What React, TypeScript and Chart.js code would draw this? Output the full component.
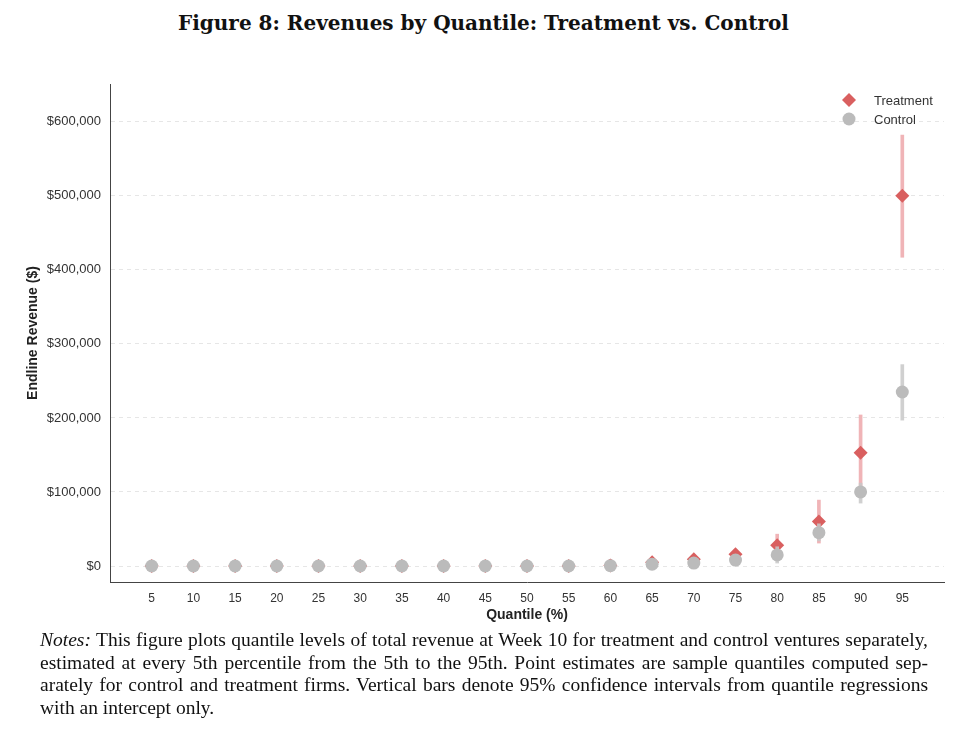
import { useEffect, useRef } from "react";
import { Chart, registerables } from "chart.js";

Chart.register(...registerables);

const quantiles = [5, 10, 15, 20, 25, 30, 35, 40, 45, 50, 55, 60, 65, 70, 75, 80, 85, 90, 95];

const treatmentEst = [0, 0, 0, 0, 0, 0, 0, 0, 0, 0, 0, 800, 5000, 9000, 16000, 28000, 60000, 153000, 500000];
const treatmentLow = [0, 0, 0, 0, 0, 0, 0, 0, 0, 0, 0, 0, 1500, 5000, 10000, 16000, 31000, 98000, 417000];
const treatmentHigh = [0, 0, 0, 0, 0, 0, 0, 0, 0, 0, 1000, 9000, 10000, 15000, 22000, 43000, 89000, 204000, 582000];

const controlEst = [0, 0, 0, 0, 0, 0, 0, 0, 0, 0, 0, 500, 2500, 4000, 8000, 15000, 45000, 100000, 235000];
const controlLow = [0, 0, 0, 0, 0, 0, 0, 0, 0, 0, 0, 0, 500, 1500, 4000, 4000, 34000, 85000, 197000];
const controlHigh = [0, 0, 0, 0, 0, 0, 0, 0, 0, 0, 0, 1500, 4500, 7000, 13000, 26000, 57000, 112000, 272000];

const yTicks = [0, 100000, 200000, 300000, 400000, 500000, 600000];

const RED = "#D95F5F";
const RED_CI = "rgba(232, 140, 145, 0.65)";
const GRAY = "#BBBBBB";
const GRAY_CI = "rgba(200, 200, 200, 0.85)";

const legendItems = [
  { label: "Treatment", color: RED, shape: "diamond" },
  { label: "Control", color: GRAY, shape: "circle" },
];

// legend sits inside the plot, top right
const insideLegend = {
  id: "insideLegend",
  afterDraw(chart: any) {
    const { ctx, chartArea } = chart;
    ctx.save();
    ctx.font = "13px 'Liberation Sans', Arial, sans-serif";
    ctx.textBaseline = "middle";
    legendItems.forEach((item, i) => {
      const cx = chartArea.right - 95;
      const cy = chartArea.top + 16 + i * 19;
      ctx.fillStyle = item.color;
      ctx.beginPath();
      if (item.shape === "diamond") {
        ctx.moveTo(cx, cy - 7);
        ctx.lineTo(cx + 7, cy);
        ctx.lineTo(cx, cy + 7);
        ctx.lineTo(cx - 7, cy);
        ctx.closePath();
      } else {
        ctx.arc(cx, cy, 6.5, 0, Math.PI * 2);
      }
      ctx.fill();
      ctx.fillStyle = "#333333";
      ctx.fillText(item.label, cx + 25, cy + 1);
    });
    ctx.restore();
  },
};

const RevenueQuantileChart = () => {
  const chartRef = useRef<HTMLCanvasElement>(null);

  useEffect(() => {
    const ctx = chartRef.current!.getContext("2d")!;

    const chart = new Chart(ctx, {
      type: "scatter",
      data: {
        datasets: [
          {
            type: "scatter",
            label: "Control",
            data: quantiles.map((q, i) => ({ x: q, y: controlEst[i] })),
            pointStyle: "circle",
            pointRadius: 6.5,
            backgroundColor: GRAY,
            borderWidth: 0,
            order: 0,
          },
          {
            type: "bar",
            label: "Control CI",
            data: quantiles.map((q, i) => ({ x: q, y: [controlLow[i], controlHigh[i]] })) as any,
            backgroundColor: GRAY_CI,
            barThickness: 3,
            grouped: false,
            order: 1,
          },
          {
            type: "scatter",
            label: "Treatment",
            data: quantiles.map((q, i) => ({ x: q, y: treatmentEst[i] })),
            pointStyle: "rectRot",
            pointRadius: 7,
            backgroundColor: RED,
            borderWidth: 0,
            order: 2,
          },
          {
            type: "bar",
            label: "Treatment CI",
            data: quantiles.map((q, i) => ({ x: q, y: [treatmentLow[i], treatmentHigh[i]] })) as any,
            backgroundColor: RED_CI,
            barThickness: 3,
            grouped: false,
            order: 3,
          },
        ],
      },
      options: {
        animation: false,
        responsive: true,
        maintainAspectRatio: false,
        layout: { padding: { left: 17, right: 0, top: 24, bottom: 6 } },
        plugins: {
          legend: { display: false },
          tooltip: { enabled: false },
        },
        scales: {
          x: {
            type: "linear",
            min: 0,
            max: 100,
            offset: false,
            afterBuildTicks: (scale: any) => {
              scale.ticks = quantiles.map((v) => ({ value: v }));
            },
            afterFit: (scale: any) => {
              scale.height = 42;
            },
            grid: { display: false, drawTicks: false },
            border: { display: true, color: "#444444", width: 1 },
            ticks: {
              padding: 9,
              color: "#333333",
              font: { family: "'Liberation Sans', Arial, sans-serif", size: 12 },
              callback: (v: any) => String(v),
            },
            title: {
              display: true,
              text: "Quantile (%)",
              color: "#222222",
              padding: 0,
              font: { family: "'Liberation Sans', Arial, sans-serif", size: 14, weight: "bold" },
            },
          },
          y: {
            type: "linear",
            min: -21600,
            max: 651000,
            afterBuildTicks: (scale: any) => {
              scale.ticks = yTicks.map((v) => ({ value: v }));
            },
            afterFit: (scale: any) => {
              scale.width = 85;
            },
            grid: { color: "#E6E6E6", lineWidth: 1, drawTicks: false },
            border: { display: true, color: "#444444", width: 1, dash: [4, 4] },
            ticks: {
              padding: 9,
              color: "#333333",
              font: { family: "'Liberation Sans', Arial, sans-serif", size: 13 },
              callback: (v: any) => "$" + Number(v).toLocaleString("en-US"),
            },
            title: {
              display: true,
              text: "Endline Revenue ($)",
              color: "#222222",
              padding: 0,
              font: { family: "'Liberation Sans', Arial, sans-serif", size: 14, weight: "bold" },
            },
          },
        },
      },
      plugins: [insideLegend],
    });

    return () => {
      chart.destroy();
    };
  }, []);

  return (
    <div style={{ position: "absolute", left: 0, top: 52, width: 943, height: 570 }}>
      <canvas ref={chartRef}></canvas>
    </div>
  );
};

const noteLine = { textAlign: "justify" as const, textAlignLast: "justify" as const, whiteSpace: "nowrap" as const };

export default function App() {
  return (
    <div style={{ position: "relative", width: 941, height: 726 }}>
      <div
        style={{
          position: "absolute",
          top: 2,
          left: 5,
          width: 941,
          textAlign: "center",
          fontFamily: "'DejaVu Serif', serif",
          fontWeight: "bold",
          fontSize: 20,
          lineHeight: "26px",
          color: "#111",
        }}
      >
        Figure 8: Revenues by Quantile: Treatment vs. Control
      </div>
      <RevenueQuantileChart />
      <div
        style={{
          position: "absolute",
          top: 621,
          left: 32,
          width: 888,
          fontFamily: "'Liberation Serif', 'Times New Roman', serif",
          fontSize: 19.5,
          lineHeight: "22.5px",
          color: "#111",
        }}
      >
        <div style={noteLine}>
          <i>Notes:</i> This figure plots quantile levels of total revenue at Week 10 for treatment and control ventures separately,
        </div>
        <div style={noteLine}>
          estimated at every 5th percentile from the 5th to the 95th. Point estimates are sample quantiles computed sep-
        </div>
        <div style={noteLine}>
          arately for control and treatment firms. Vertical bars denote 95% confidence intervals from quantile regressions
        </div>
        <div>with an intercept only.</div>
      </div>
    </div>
  );
}
